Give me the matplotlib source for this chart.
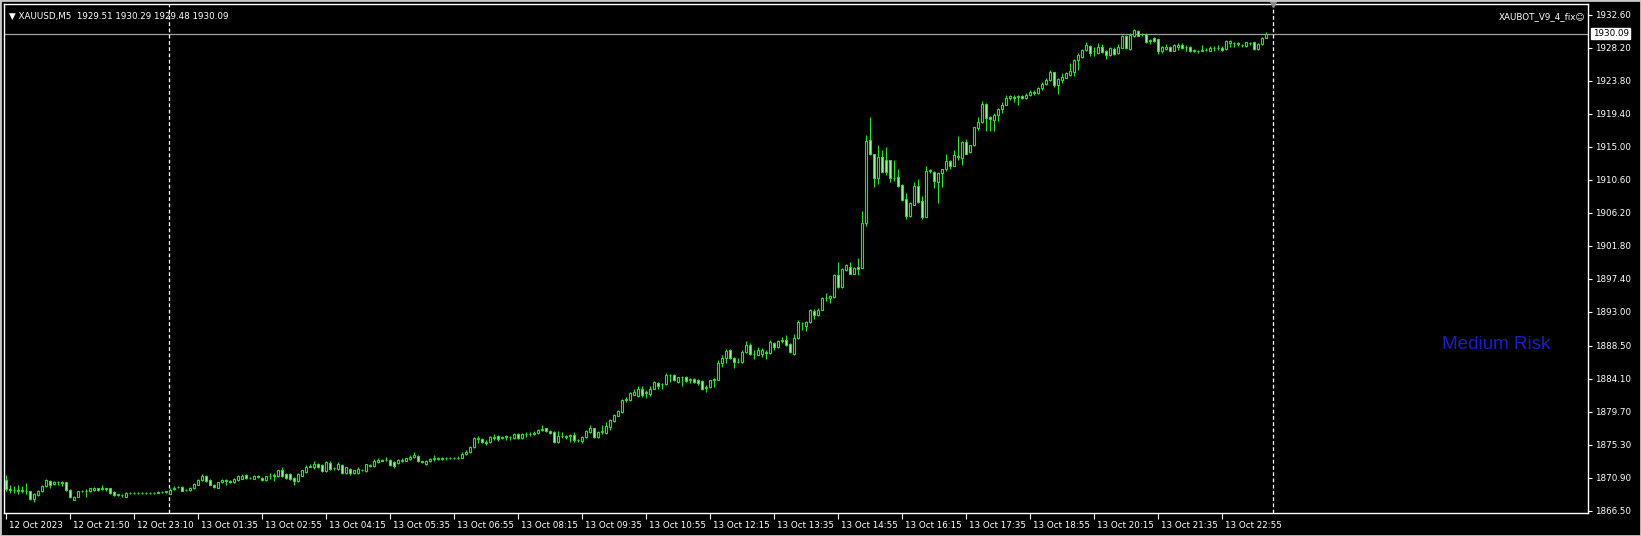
import matplotlib
matplotlib.use("Agg")
import matplotlib.pyplot as plt
import matplotlib.transforms as mtransforms
from matplotlib.patches import Rectangle

# XAUUSD M5 candles, 12 Oct 2023 20:30 -> 13 Oct 2023 23:55
opens = [
    1870.6, 1869.4, 1869.3, 1869.3, 1869.2, 1869.2, 1869.1, 1868.1, 1868.6, 1869.1,
    1869.8, 1870.5, 1870.1, 1870.3, 1870.3, 1870.3, 1869.3, 1868.0, 1868.4, 1869.1,
    1869.2, 1869.1, 1869.3, 1869.5, 1869.4, 1869.5, 1869.5, 1869.0, 1868.6, 1868.6,
    1868.4, 1868.9, 1868.9, 1868.85, 1868.9, 1868.85, 1868.9, 1868.9, 1868.95, 1869.0,
    1869.0, 1868.8, 1869.4, 1869.7, 1869.7, 1869.3, 1869.3, 1869.5, 1870.0, 1870.6,
    1871.1, 1870.6, 1870.0, 1869.6, 1870.3, 1870.6, 1870.5, 1870.3, 1870.6, 1870.8,
    1871.3, 1870.9, 1870.8, 1871.2, 1870.9, 1870.6, 1871.1, 1871.2, 1871.1, 1871.95,
    1871.4, 1871.4, 1870.9, 1870.5, 1871.2, 1871.7, 1872.4, 1872.3, 1872.7, 1872.6,
    1871.8, 1872.9, 1872.15, 1872.1, 1872.6, 1871.5, 1872.1, 1871.5, 1871.5, 1872.0,
    1871.8, 1872.6, 1872.5, 1873.0, 1873.3, 1873.3, 1873.3, 1873.0, 1872.9, 1873.1,
    1873.2, 1873.4, 1873.7, 1873.8, 1873.1, 1872.7, 1873.1, 1873.4, 1873.5, 1873.45,
    1873.5, 1873.5, 1873.55, 1873.5, 1873.6, 1874.1, 1874.3, 1875.0, 1876.1, 1876.1,
    1875.7, 1875.7, 1876.2, 1876.5, 1876.2, 1876.4, 1876.4, 1876.2, 1876.8, 1876.2,
    1876.7, 1876.7, 1876.8, 1876.9, 1877.3, 1877.5, 1877.2, 1877.0, 1875.7, 1876.5,
    1876.4, 1876.5, 1876.6, 1875.9, 1875.8, 1876.3, 1877.0, 1877.5, 1876.3, 1877.0,
    1876.9, 1877.7, 1878.5, 1879.2, 1879.7, 1881.3, 1881.3, 1882.0, 1881.8, 1882.8,
    1882.2, 1882.1, 1882.8, 1883.6, 1883.4, 1883.4, 1884.6, 1884.6, 1883.7, 1884.3,
    1884.4, 1884.0, 1884.1, 1884.0, 1883.8, 1882.9, 1883.0, 1883.9, 1884.0, 1886.2,
    1886.8, 1887.9, 1886.9, 1886.4, 1886.3, 1887.6, 1888.6, 1887.4, 1887.3, 1887.4,
    1887.6, 1887.5, 1888.9, 1888.3, 1889.1, 1889.3, 1888.7, 1887.4, 1889.5, 1891.5,
    1891.1, 1891.6, 1893.1, 1892.6, 1893.3, 1894.8, 1894.8, 1895.0, 1897.9, 1896.3,
    1898.6, 1899.0, 1898.1, 1899.0, 1898.9, 1904.8, 1915.9, 1914.0, 1910.9, 1913.6,
    1913.2, 1913.2, 1910.9, 1911.0, 1909.9, 1908.0, 1905.8, 1907.3, 1909.8, 1907.8,
    1905.7, 1911.8, 1911.7, 1910.3, 1911.5, 1912.0, 1913.1, 1912.5, 1913.7, 1913.5,
    1915.7, 1914.3, 1915.2, 1917.5, 1918.3, 1920.7, 1919.0, 1918.6, 1919.3, 1920.1,
    1920.6, 1921.5, 1921.6, 1921.6, 1921.8, 1921.5, 1921.9, 1922.3, 1922.1, 1922.8,
    1923.4, 1923.9, 1924.9, 1923.2, 1923.9, 1924.2, 1924.6, 1925.0, 1926.5, 1926.9,
    1927.9, 1928.4, 1927.7, 1927.5, 1928.3, 1927.8, 1927.2, 1928.0, 1927.5, 1928.2,
    1929.8, 1928.0, 1929.8, 1930.4, 1930.0, 1930.0, 1929.1, 1929.5, 1929.3, 1927.7,
    1928.0, 1928.3, 1927.8, 1928.3, 1928.6, 1928.3, 1928.3, 1927.8, 1927.8, 1927.8,
    1927.85, 1927.8, 1928.1, 1928.1, 1928.2, 1928.0, 1928.8, 1928.8, 1928.8, 1928.6,
    1928.4, 1928.8, 1928.9, 1928.0, 1928.7, 1929.51,
]
highs = [
    1871.3, 1869.9, 1869.8, 1869.9, 1869.8, 1870.2, 1869.2, 1868.9, 1869.3, 1869.9,
    1870.8, 1870.6, 1870.5, 1870.5, 1870.5, 1870.4, 1869.4, 1868.5, 1869.2, 1869.3,
    1869.4, 1869.6, 1869.7, 1869.6, 1870.0, 1869.6, 1869.6, 1869.1, 1868.8, 1868.7,
    1869.0, 1869.0, 1869.0, 1869.0, 1869.0, 1869.0, 1869.0, 1869.05, 1869.1, 1869.1,
    1869.2, 1869.5, 1869.8, 1869.8, 1869.8, 1869.4, 1869.7, 1870.2, 1870.7, 1871.4,
    1871.3, 1870.7, 1870.1, 1870.4, 1870.8, 1870.7, 1870.6, 1870.9, 1871.3, 1871.4,
    1871.4, 1871.0, 1871.3, 1871.3, 1871.0, 1871.2, 1871.5, 1871.5, 1872.0, 1872.3,
    1871.5, 1871.5, 1871.0, 1871.5, 1872.0, 1872.6, 1872.7, 1873.1, 1872.9, 1872.7,
    1873.1, 1873.1, 1872.3, 1873.0, 1872.8, 1872.4, 1872.2, 1872.0, 1872.3, 1872.1,
    1872.8, 1872.8, 1873.4, 1873.6, 1873.4, 1873.7, 1873.4, 1873.1, 1873.4, 1873.5,
    1873.6, 1873.9, 1874.3, 1874.0, 1873.2, 1873.3, 1873.6, 1873.9, 1873.7, 1873.7,
    1873.7, 1873.7, 1873.7, 1873.8, 1874.3, 1874.6, 1875.2, 1876.3, 1876.5, 1876.2,
    1876.0, 1876.5, 1876.7, 1876.6, 1876.5, 1876.6, 1876.5, 1876.9, 1876.9, 1876.9,
    1877.0, 1877.0, 1877.1, 1877.4, 1877.9, 1877.6, 1877.3, 1877.1, 1877.2, 1877.0,
    1876.6, 1876.8, 1877.0, 1876.1, 1876.5, 1877.3, 1878.0, 1877.6, 1877.1, 1878.0,
    1878.4, 1878.8, 1879.4, 1880.0, 1881.4, 1881.7, 1882.3, 1882.7, 1883.1, 1883.1,
    1882.6, 1883.1, 1883.8, 1883.7, 1883.6, 1884.9, 1884.8, 1884.7, 1884.4, 1884.5,
    1884.5, 1884.2, 1884.2, 1884.1, 1883.9, 1883.3, 1884.0, 1884.2, 1886.6, 1887.3,
    1888.1, 1888.1, 1887.0, 1886.8, 1887.9, 1889.1, 1888.8, 1887.9, 1888.3, 1888.2,
    1887.9, 1889.2, 1889.0, 1889.2, 1889.6, 1889.9, 1888.8, 1890.1, 1891.9, 1891.7,
    1891.8, 1893.4, 1893.4, 1893.5, 1895.0, 1895.5, 1895.3, 1898.0, 1899.7, 1898.8,
    1899.4, 1899.7, 1899.0, 1900.2, 1906.4, 1916.6, 1919.0, 1914.1, 1915.2, 1914.6,
    1915.0, 1913.3, 1913.2, 1912.1, 1910.0, 1908.8, 1907.6, 1910.3, 1910.7, 1908.4,
    1912.4, 1912.0, 1911.8, 1911.6, 1912.1, 1914.0, 1913.2, 1914.6, 1916.4, 1915.8,
    1916.1, 1915.3, 1917.7, 1919.0, 1921.1, 1920.8, 1919.1, 1919.5, 1920.2, 1921.0,
    1921.9, 1921.9, 1921.9, 1921.9, 1921.9, 1922.1, 1922.5, 1922.6, 1923.0, 1923.6,
    1924.2, 1925.2, 1925.0, 1924.1, 1924.8, 1924.9, 1926.1, 1926.7, 1927.5, 1928.0,
    1928.9, 1928.5, 1928.3, 1928.8, 1928.7, 1927.9, 1928.3, 1928.3, 1928.7, 1929.9,
    1929.9, 1930.1, 1930.7, 1930.6, 1930.2, 1930.1, 1929.4, 1929.6, 1929.4, 1928.4,
    1928.7, 1928.4, 1928.7, 1928.8, 1928.8, 1928.6, 1928.4, 1928.0, 1927.9, 1928.6,
    1928.1, 1928.4, 1928.4, 1928.6, 1928.4, 1929.2, 1929.2, 1928.9, 1928.9, 1928.7,
    1929.0, 1929.0, 1929.0, 1928.8, 1929.6, 1930.29,
]
lows = [
    1869.2, 1868.9, 1868.9, 1868.8, 1868.9, 1868.8, 1868.0, 1867.7, 1868.5, 1869.0,
    1869.7, 1869.5, 1869.9, 1870.0, 1869.8, 1869.2, 1868.2, 1867.9, 1868.3, 1869.0,
    1868.4, 1869.0, 1869.2, 1869.2, 1869.3, 1869.2, 1868.8, 1868.5, 1868.5, 1868.3,
    1868.3, 1868.8, 1868.8, 1868.8, 1868.8, 1868.8, 1868.8, 1868.8, 1868.9, 1868.9,
    1868.9, 1868.7, 1869.3, 1869.6, 1869.1, 1869.2, 1869.2, 1869.4, 1869.9, 1870.5,
    1870.4, 1869.9, 1869.6, 1869.5, 1870.2, 1870.0, 1870.2, 1870.2, 1870.5, 1870.7,
    1870.8, 1870.8, 1870.7, 1870.9, 1870.5, 1870.5, 1870.8, 1870.5, 1871.0, 1871.0,
    1870.8, 1870.6, 1869.95, 1870.4, 1871.1, 1871.6, 1872.3, 1872.1, 1872.2, 1871.7,
    1871.7, 1872.0, 1872.0, 1872.0, 1871.4, 1871.4, 1871.3, 1871.4, 1871.4, 1871.8,
    1871.7, 1872.3, 1872.4, 1872.9, 1873.1, 1873.1, 1872.5, 1872.2, 1872.8, 1873.0,
    1873.1, 1873.3, 1873.6, 1873.0, 1872.9, 1872.6, 1873.0, 1873.2, 1873.3, 1873.3,
    1873.3, 1873.4, 1873.4, 1873.4, 1873.5, 1874.0, 1874.2, 1874.9, 1875.6, 1875.6,
    1875.3, 1875.6, 1876.0, 1875.8, 1876.1, 1876.0, 1876.0, 1876.1, 1876.1, 1876.1,
    1876.4, 1876.5, 1876.6, 1876.8, 1877.1, 1877.0, 1876.8, 1875.6, 1875.6, 1876.2,
    1876.1, 1875.7, 1875.7, 1875.7, 1875.6, 1876.2, 1876.9, 1876.2, 1876.2, 1876.7,
    1876.8, 1877.3, 1878.4, 1879.1, 1879.6, 1881.0, 1881.2, 1881.9, 1881.7, 1881.7,
    1881.5, 1881.8, 1882.7, 1882.8, 1882.7, 1883.3, 1883.7, 1883.8, 1883.5, 1883.1,
    1883.7, 1883.5, 1883.6, 1883.3, 1882.6, 1882.4, 1882.9, 1883.0, 1883.9, 1885.7,
    1886.2, 1886.7, 1885.6, 1886.2, 1886.2, 1887.5, 1887.3, 1886.7, 1887.2, 1887.0,
    1886.7, 1887.4, 1887.9, 1888.2, 1888.8, 1888.5, 1887.5, 1887.3, 1889.4, 1890.6,
    1890.5, 1891.5, 1892.0, 1892.5, 1893.2, 1894.4, 1894.2, 1894.9, 1896.2, 1896.2,
    1898.4, 1898.0, 1898.0, 1897.9, 1898.8, 1904.5, 1913.9, 1909.6, 1910.1, 1911.6,
    1911.3, 1910.3, 1910.4, 1909.7, 1907.8, 1905.4, 1905.7, 1907.2, 1907.5, 1905.4,
    1905.6, 1911.5, 1909.5, 1907.5, 1909.7, 1911.8, 1912.1, 1912.4, 1913.2, 1912.6,
    1914.0, 1914.2, 1915.1, 1917.3, 1918.2, 1917.1, 1917.1, 1917.1, 1918.4, 1919.5,
    1920.5, 1921.2, 1921.0, 1920.6, 1921.3, 1921.4, 1921.7, 1921.9, 1922.0, 1922.6,
    1923.2, 1923.8, 1923.0, 1922.0, 1923.5, 1924.1, 1924.4, 1924.4, 1925.2, 1926.8,
    1927.7, 1927.1, 1927.1, 1927.4, 1927.5, 1926.7, 1927.1, 1927.2, 1927.4, 1928.1,
    1928.0, 1927.9, 1929.6, 1929.7, 1929.7, 1928.8, 1928.7, 1929.0, 1927.4, 1927.5,
    1927.9, 1927.7, 1927.7, 1927.9, 1928.0, 1927.8, 1927.6, 1927.6, 1927.5, 1927.7,
    1927.7, 1927.7, 1927.8, 1927.9, 1927.8, 1927.9, 1928.3, 1928.3, 1928.4, 1928.3,
    1928.3, 1928.5, 1927.9, 1927.9, 1928.6, 1929.48,
]
closes = [
    1869.4, 1869.3, 1869.25, 1869.2, 1869.2, 1869.1, 1868.1, 1868.8, 1869.2, 1869.8,
    1870.6, 1870.0, 1870.3, 1870.3, 1870.25, 1869.3, 1868.3, 1868.4, 1869.1, 1869.2,
    1869.15, 1869.5, 1869.5, 1869.3, 1869.5, 1869.4, 1868.9, 1868.6, 1868.7, 1868.6,
    1868.9, 1868.9, 1868.85, 1868.9, 1868.85, 1868.9, 1868.9, 1868.95, 1869.0, 1869.0,
    1869.1, 1869.3, 1869.6, 1869.7, 1869.2, 1869.3, 1869.6, 1870.1, 1870.6, 1871.2,
    1870.5, 1870.0, 1869.7, 1870.3, 1870.6, 1870.5, 1870.3, 1870.8, 1871.1, 1871.2,
    1870.9, 1870.9, 1871.2, 1871.0, 1870.6, 1871.1, 1871.15, 1871.3, 1871.9, 1871.1,
    1870.9, 1870.8, 1870.5, 1871.4, 1871.9, 1872.4, 1872.5, 1872.7, 1872.3, 1871.8,
    1873.0, 1872.1, 1872.2, 1872.8, 1871.5, 1872.3, 1871.6, 1871.9, 1872.1, 1871.9,
    1872.7, 1872.5, 1873.1, 1873.3, 1873.2, 1873.3, 1872.6, 1872.5, 1873.3, 1873.3,
    1873.5, 1873.7, 1873.95, 1873.1, 1873.0, 1873.1, 1873.4, 1873.5, 1873.45, 1873.5,
    1873.5, 1873.55, 1873.5, 1873.6, 1874.1, 1874.4, 1875.0, 1876.2, 1876.2, 1875.7,
    1875.6, 1876.4, 1876.4, 1876.1, 1876.4, 1876.4, 1876.35, 1876.8, 1876.2, 1876.7,
    1876.7, 1876.8, 1876.9, 1877.3, 1877.4, 1877.1, 1876.9, 1875.7, 1876.5, 1876.5,
    1876.4, 1876.6, 1875.9, 1876.0, 1876.4, 1877.2, 1877.6, 1876.3, 1877.0, 1877.1,
    1877.8, 1878.6, 1879.3, 1879.8, 1881.3, 1881.4, 1882.2, 1882.3, 1882.8, 1881.9,
    1882.3, 1882.8, 1883.7, 1883.1, 1883.4, 1884.6, 1884.6, 1883.9, 1884.3, 1884.3,
    1883.8, 1884.0, 1883.7, 1883.6, 1882.7, 1883.0, 1883.9, 1884.1, 1886.2, 1886.8,
    1887.8, 1886.8, 1886.4, 1886.3, 1887.7, 1888.6, 1887.4, 1887.4, 1887.9, 1887.9,
    1887.5, 1889.0, 1888.3, 1889.1, 1889.2, 1888.6, 1887.6, 1889.5, 1891.6, 1891.5,
    1891.7, 1893.2, 1892.6, 1893.2, 1894.8, 1894.9, 1895.1, 1897.9, 1896.3, 1898.7,
    1899.2, 1898.1, 1898.9, 1898.7, 1904.8, 1915.8, 1914.0, 1910.9, 1913.6, 1911.7,
    1911.6, 1910.9, 1910.85, 1909.8, 1907.9, 1905.8, 1907.5, 1909.8, 1907.6, 1905.6,
    1911.8, 1911.9, 1910.4, 1911.5, 1912.0, 1913.1, 1912.5, 1913.9, 1913.7, 1915.7,
    1914.1, 1915.2, 1917.6, 1918.3, 1920.7, 1918.9, 1918.7, 1919.3, 1920.1, 1920.6,
    1921.5, 1921.7, 1921.5, 1921.8, 1921.5, 1921.9, 1922.3, 1922.1, 1922.8, 1923.4,
    1923.9, 1924.9, 1923.2, 1924.0, 1924.3, 1924.8, 1925.1, 1926.6, 1927.2, 1927.9,
    1928.6, 1927.5, 1927.8, 1928.3, 1927.6, 1927.2, 1928.1, 1927.4, 1928.3, 1929.8,
    1928.1, 1929.9, 1930.5, 1929.8, 1930.0, 1929.0, 1929.2, 1929.1, 1927.8, 1928.3,
    1928.3, 1927.8, 1928.6, 1928.5, 1928.1, 1928.3, 1927.7, 1927.8, 1927.75, 1927.8,
    1927.9, 1928.2, 1928.1, 1928.2, 1927.9, 1929.1, 1929.1, 1928.8, 1928.75, 1928.5,
    1928.9, 1928.8, 1928.0, 1928.7, 1929.5, 1930.09,
]

time_labels = [
    "12 Oct 2023", "12 Oct 21:50", "12 Oct 23:10", "13 Oct 01:35", "13 Oct 02:55",
    "13 Oct 04:15", "13 Oct 05:35", "13 Oct 06:55", "13 Oct 08:15", "13 Oct 09:35",
    "13 Oct 10:55", "13 Oct 12:15", "13 Oct 13:35", "13 Oct 14:55", "13 Oct 16:15",
    "13 Oct 17:35", "13 Oct 18:55", "13 Oct 20:15", "13 Oct 21:35", "13 Oct 22:55",
]
label_bars = list(range(0, 16 * len(time_labels), 16))
price_ticks = [1932.60, 1928.20, 1923.80, 1919.40, 1915.00, 1910.60, 1906.20, 1901.80,
               1897.40, 1893.00, 1888.50, 1884.10, 1879.70, 1875.30, 1870.90, 1866.50]
day_separators = [40.9, 316.9]
last_price = closes[-1]

GREEN = "#22e622"
BEAR_FILL = "#a6f5a6"
FG = "white"
FONT = "DejaVu Sans"

fig = plt.figure(figsize=(16.41, 5.36), dpi=100, facecolor="black")
ax = fig.add_axes([4 / 1641, 23 / 536, 1584 / 1641, 509 / 536], facecolor="black")

n = len(closes)
xs = list(range(n))
bottoms = [min(o, c) for o, c in zip(opens, closes)]
heights = [max(abs(c - o), 0.03) for o, c in zip(opens, closes)]
faces = ["black" if c >= o else BEAR_FILL for o, c in zip(opens, closes)]

ax.vlines(xs, lows, highs, color=GREEN, lw=0.8, zorder=2)
ax.bar(xs, heights, bottom=bottoms, width=0.55, color=faces, edgecolor=GREEN,
       linewidth=0.8, zorder=3)

# current price line + day separators
ax.axhline(last_price, color="#a0a0a0", lw=0.9, zorder=1)
for sx in day_separators:
    ax.axvline(sx, color=FG, lw=0.9, ls=(0, (3, 2)), zorder=1)
ax.plot([day_separators[-1]], [1], marker="v", color="#8c8c8c", ms=5,
        transform=mtransforms.blended_transform_factory(ax.transData, ax.transAxes),
        clip_on=False, zorder=4)

ax.set_xlim(-0.4, 395.6)
ax.set_ylim(1866.22, 1934.02)

for sp in ax.spines.values():
    sp.set_color(FG)
    sp.set_linewidth(1)

ax.yaxis.tick_right()
ax.set_yticks(price_ticks)
ax.set_yticklabels([f"{v:.2f}" for v in price_ticks])
ax.tick_params(axis="y", colors=FG, labelcolor=FG, length=3, width=0.8,
               labelsize=6.3, pad=2)
ax.set_xticks(label_bars)
ax.set_xticklabels(time_labels)
ax.tick_params(axis="x", colors=FG, labelcolor=FG, length=4, width=0.8,
               labelsize=6.3, pad=2)
shift = mtransforms.ScaledTranslation(3 / 100, 0, fig.dpi_scale_trans)
for lbl in ax.get_xticklabels():
    lbl.set_horizontalalignment("left")
    lbl.set_transform(lbl.get_transform() + shift)
    lbl.set_family(FONT)
for lbl in ax.get_yticklabels():
    lbl.set_family(FONT)

# price label on the scale
ax.text(1.003, last_price, f"{last_price:.2f}", fontsize=6.3, color="black",
        family=FONT, ha="left", va="center",
        transform=mtransforms.blended_transform_factory(ax.transAxes, ax.transData),
        bbox=dict(boxstyle="square,pad=0.15", fc="white", ec="white"), zorder=5)

ax.text(0.003, 0.985,
        f"\u25BC XAUUSD,M5  {opens[-1]:.2f} {highs[-1]:.2f} {lows[-1]:.2f} {closes[-1]:.2f}",
        transform=ax.transAxes, color=FG, fontsize=6.3, family=FONT, ha="left", va="top")
ax.text(0.998, 0.985, "XAUBOT_V9_4_fix\u263A", transform=ax.transAxes, color=FG,
        fontsize=6.3, family=FONT, ha="right", va="top")
ax.text(0.908, 0.332, "Medium Risk", transform=ax.transAxes, color="#1c1cc8",
        fontsize=13.6, family="Liberation Sans", ha="left", va="center")

fig.patches.append(Rectangle((0, 0), 1, 1, transform=fig.transFigure, fill=False,
                             edgecolor="#c8c8c8", lw=2))

fig.savefig("out.png", dpi=100, facecolor="black")
